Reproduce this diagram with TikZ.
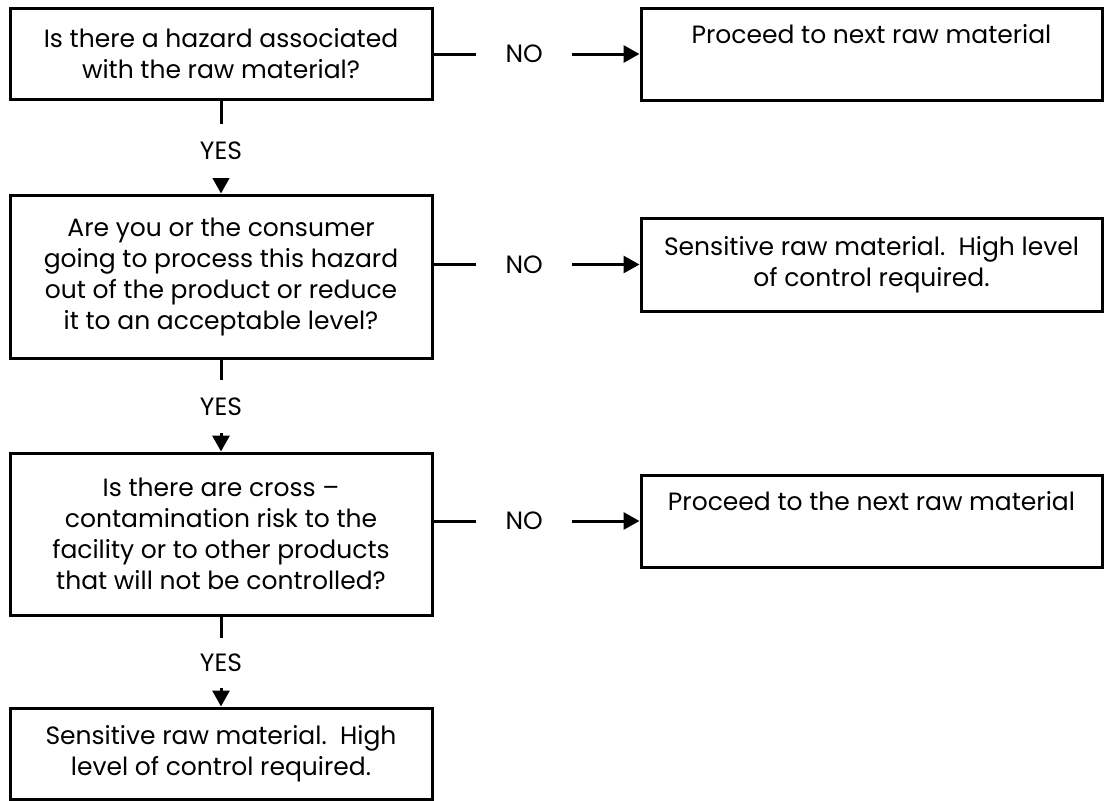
\documentclass[tikz,border=0pt]{standalone}
\usepackage{fontspec}
\setmainfont{Poppins}
\usetikzlibrary{arrows.meta}
\begin{document}
\begin{tikzpicture}[x=1pt,y=-1pt,
  box/.style={draw, line width=3pt, rectangle, inner sep=0pt, align=center,
              font=\fontsize{25}{31}\selectfont},
  lbl/.style={fill=white, inner sep=0pt, font=\fontsize{25}{27}\selectfont},
  conn/.style={line width=3pt, -{Triangle[length=16pt,width=17pt]}},
]
\useasboundingbox[fill=white] (0,0) rectangle (1104,801);

\node[box, minimum width=422pt, minimum height=91pt] (q1) at (221,53.5)
  {Is there a hazard associated\\with the raw material?};
\node[box, minimum width=461pt, minimum height=92pt] (r1) at (871.5,54)
  {Proceed to next raw material\\ \strut};

\node[box, minimum width=422pt, minimum height=163pt] (q2) at (221,276.5)
  {Are you or the consumer\\going to process this hazard\\out of the product or reduce\\it to an acceptable level?};
\node[box, minimum width=461pt, minimum height=93pt] (r2) at (871.5,264.5)
  {Sensitive raw material.\ \ High level\\of control required.};

\node[box, minimum width=422pt, minimum height=162pt] (q3) at (221,534)
  {Is there are cross --\\contamination risk to the\\facility or to other products\\that will not be controlled?};
\node[box, minimum width=461pt, minimum height=92pt] (r3) at (871.5,521)
  {Proceed to the next raw material\\ \strut};

\node[box, minimum width=422pt, minimum height=91pt] (q4) at (221,753.5)
  {Sensitive raw material.\ \ High\\level of control required.};

% YES connectors
\draw[conn] (q1.south) -- node[lbl, pos=0.54, minimum height=54pt, minimum width=40pt] (y1) {YES} (q2.north);
\draw[conn] (q2.south) -- node[lbl, pos=0.51, minimum height=53pt, minimum width=40pt] (y2) {YES} (q3.north);
\draw[conn] (q3.south) -- node[lbl, pos=0.516, minimum height=50pt, minimum width=40pt] (y3) {YES} (q4.north);

% NO connectors
\draw[conn] (r1.west -| q1.east) -- node[lbl, pos=0.44, minimum width=96pt, minimum height=12pt] (n1) {NO} (r1.west);
\draw[conn] (r2.west -| q2.east) -- node[lbl, pos=0.44, minimum width=96pt, minimum height=12pt] (n2) {NO} (r2.west);
\draw[conn] (r3.west -| q3.east) -- node[lbl, pos=0.44, minimum width=96pt, minimum height=12pt] (n3) {NO} (r3.west);
\end{tikzpicture}
\end{document}
